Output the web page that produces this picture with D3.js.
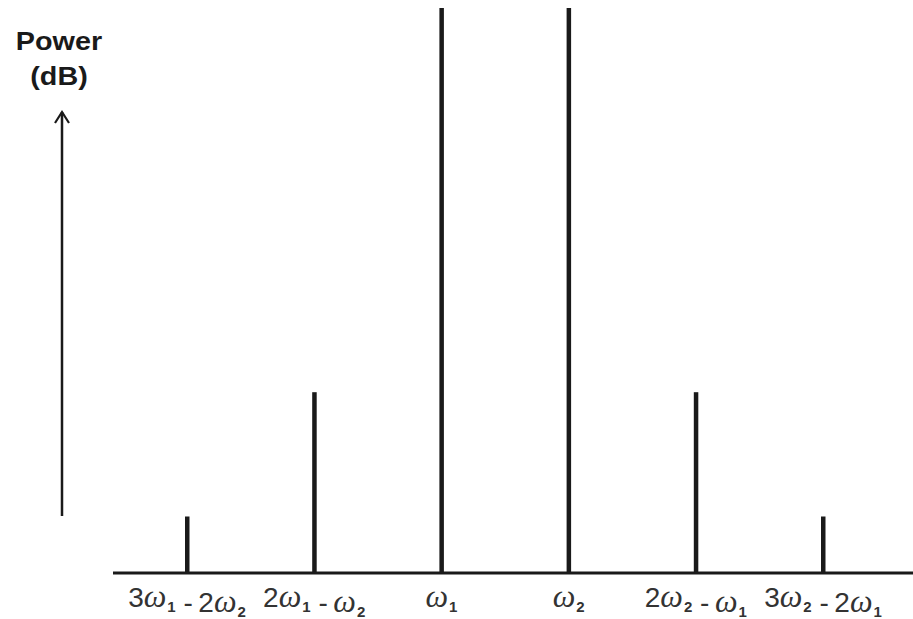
<!DOCTYPE html>
<html>
<head>
<meta charset="utf-8">
<script src="https://cdn.jsdelivr.net/npm/d3@7"></script>
<style>
  body { margin: 0; background: #fff; }
  svg { display: block; }
</style>
</head>
<body>
<svg id="chart"></svg>
<script>
// tones of a two-tone intermod spectrum
const categories = ['3w1-2w2', '2w1-w2', 'w1', 'w2', '2w2-w1', '3w2-2w1']
const powers = [10, 32, 100, 100, 32, 10]
// label pieces: [coef, sub, coef, sub]
const labelParts = [
    ['3', '1', '2', '2'],
    ['2', '1', '', '2'],
    ['', '1', null, null],
    ['', '2', null, null],
    ['2', '2', '', '1'],
    ['3', '2', '2', '1'],
]

const width = 913
const height = 619

const svg = d3.select('#chart').attr('width', width).attr('height', height)

const xScale = d3.scalePoint().domain(categories).range([187, 823])
const yScale = d3.scaleLinear().domain([0, 100]).range([573, 8])

// baseline
svg.append('line')
    .attr('x1', 113)
    .attr('x2', width)
    .attr('y1', yScale(0))
    .attr('y2', yScale(0))
    .style('stroke', '#1a1a1a')
    .style('stroke-width', 3)

// spectral lines
svg.selectAll('rect.tone')
    .data(categories)
    .enter()
    .append('rect')
    .attr('class', 'tone')
    .attr('x', (d) => xScale(d) - 2)
    .attr('y', (d, i) => yScale(powers[i]))
    .attr('width', 4.5)
    .attr('height', (d, i) => yScale(0) - yScale(powers[i]))
    .style('fill', '#1a1a1a')

// x labels
const labels = svg.selectAll('text.lbl')
    .data(categories)
    .enter()
    .append('text')
    .attr('class', 'lbl')
    .attr('text-anchor', 'middle')
    .attr('x', (d) => xScale(d))
    .attr('y', 607)
    .style('font-family', 'Liberation Sans, Arial, sans-serif')
    .style('font-size', '28px')
    .style('fill', '#333')

labels.each(function (d, i) {
    const t = d3.select(this)
    const p = labelParts[i]
    const term = (coef, sub) => {
        if (coef) t.append('tspan').text(coef)
        t.append('tspan')
            .style('font-style', 'italic')
            .style('font-family', 'Liberation Serif, Times New Roman, serif')
            .style('font-size', '32px')
            .text('ω')
        t.append('tspan')
            .attr('dx', 1)
            .attr('dy', 5)
            .style('font-size', '15px')
            .style('font-weight', 'bold')
            .text(sub)
        t.append('tspan').attr('dy', -5).text('')
    }
    term(p[0], p[1])
    if (p[2] !== null) {
        t.append('tspan').text(' -\u2009')
        term(p[2], p[3])
    }
})

// y axis arrow
const arrowX = 62
svg.append('line')
    .attr('x1', arrowX)
    .attr('x2', arrowX)
    .attr('y1', 516)
    .attr('y2', 112)
    .style('stroke', '#1a1a1a')
    .style('stroke-width', 2.5)
svg.append('path')
    .attr('d', 'M' + (arrowX - 7) + ',' + 123 + ' L' + arrowX + ',' + 112 + ' L' + (arrowX + 7) + ',' + 123)
    .style('fill', 'none')
    .style('stroke', '#1a1a1a')
    .style('stroke-width', 2.2)

const title = svg.append('text')
    .attr('text-anchor', 'middle')
    .attr('transform', 'translate(' + (arrowX - 3) + ',0) scale(1.15,1)')
    .style('font-family', 'Liberation Sans, Arial, sans-serif')
    .style('font-weight', 'bold')
    .style('font-size', '25px')
    .style('fill', '#1a1a1a')
title.append('tspan').attr('x', 0).attr('y', 50).text('Power')
title.append('tspan').attr('x', 0).attr('y', 85).text('(dB)')
</script>
</body>
</html>
